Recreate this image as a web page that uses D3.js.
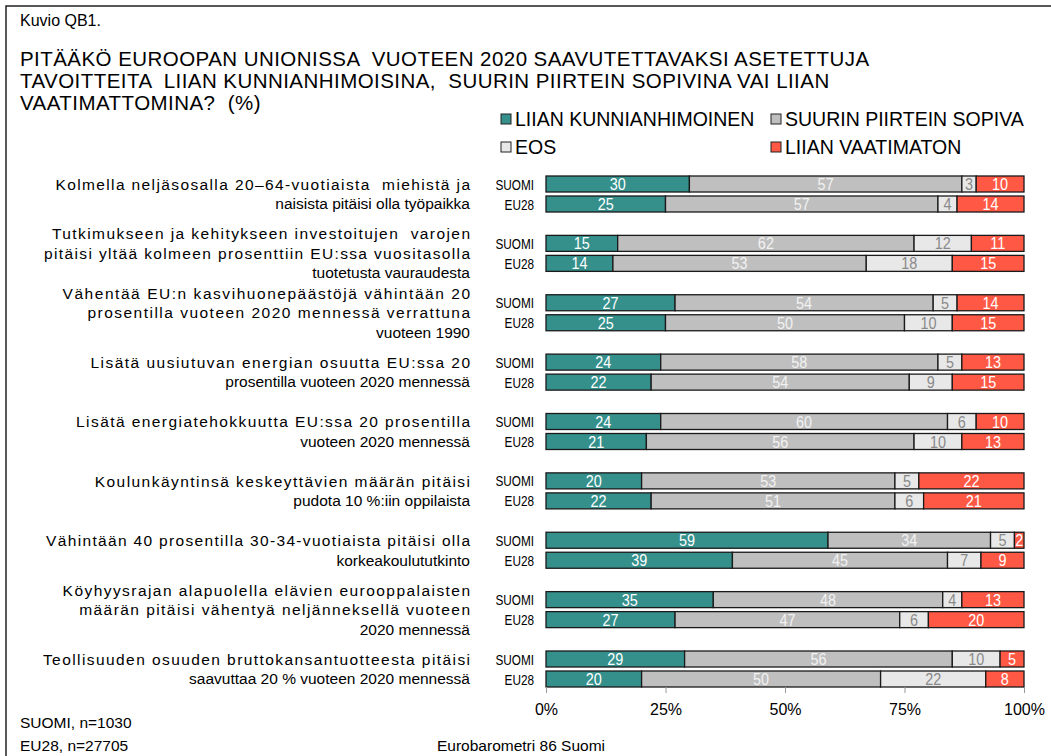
<!DOCTYPE html>
<html><head><meta charset="utf-8">
<script src="https://cdn.jsdelivr.net/npm/d3@7"></script>
<style>
html,body{margin:0;padding:0;background:#fff;}
svg text{font-family:"Liberation Sans",Arial,sans-serif;fill:#000;}
</style></head>
<body><svg id="c" width="1051" height="756"></svg>
<script>
const categories = [
  ["Kolmella neljäsosalla 20–64-vuotiaista  miehistä ja", "naisista pitäisi olla työpaikka"],
  ["Tutkimukseen ja kehitykseen investoitujen  varojen", "pitäisi yltää kolmeen prosenttiin EU:ssa vuositasolla", "tuotetusta vauraudesta"],
  ["Vähentää EU:n kasvihuonepäästöjä vähintään 20", "prosentilla vuoteen 2020 mennessä verrattuna", "vuoteen 1990"],
  ["Lisätä uusiutuvan energian osuutta EU:ssa 20", "prosentilla vuoteen 2020 mennessä"],
  ["Lisätä energiatehokkuutta EU:ssa 20 prosentilla", "vuoteen 2020 mennessä"],
  ["Koulunkäyntinsä keskeyttävien määrän pitäisi", "pudota 10 %:iin oppilaista"],
  ["Vähintään 40 prosentilla 30-34-vuotiaista pitäisi olla", "korkeakoulututkinto"],
  ["Köyhyysrajan alapuolella elävien eurooppalaisten", "määrän pitäisi vähentyä neljänneksellä vuoteen", "2020 mennessä"],
  ["Teollisuuden osuuden bruttokansantuotteesta pitäisi", "saavuttaa 20 % vuoteen 2020 mennessä"]
];
const rowNames = ["SUOMI", "EU28"];
const seriesNames = ["LIIAN KUNNIANHIMOINEN", "SUURIN PIIRTEIN SOPIVA", "EOS", "LIIAN VAATIMATON"];
const suomiKunnianhimoinen = [30, 15, 27, 24, 24, 20, 59, 35, 29];
const suomiSopiva          = [57, 62, 54, 58, 60, 53, 34, 48, 56];
const suomiEos             = [3, 12, 5, 5, 6, 5, 5, 4, 10];
const suomiVaatimaton      = [10, 11, 14, 13, 10, 22, 2, 13, 5];
const eu28Kunnianhimoinen  = [25, 14, 25, 22, 21, 22, 39, 27, 20];
const eu28Sopiva           = [57, 53, 50, 54, 56, 51, 45, 47, 50];
const eu28Eos              = [4, 18, 10, 9, 10, 6, 7, 6, 22];
const eu28Vaatimaton       = [14, 15, 15, 15, 13, 21, 9, 20, 8];
const tickValues = [0, 25, 50, 75, 100];
const tickLabels = ["0%", "25%", "50%", "75%", "100%"];

const colors = ["#35908C", "#BFBFBF", "#E8E8E8", "#FF5945"];
const labelColors = ["#ffffff", "#f2f2f2", "#8a8a8a", "#ffffff"];

const svg = d3.select("#c");

// frame
svg.append("path").attr("d", "M6,770V6H1060").attr("fill", "none").attr("stroke", "#222").attr("stroke-width", 1.5);

svg.append("text").attr("x", 20).attr("y", 26).attr("font-size", 16).text("Kuvio QB1.");
const titleLines = ["PITÄÄKÖ EUROOPAN UNIONISSA  VUOTEEN 2020 SAAVUTETTAVAKSI ASETETTUJA",
  "TAVOITTEITA  LIIAN KUNNIANHIMOISINA,  SUURIN PIIRTEIN SOPIVINA VAI LIIAN",
  "VAATIMATTOMINA?  (%)"];
svg.append("g").selectAll("text").data(titleLines).join("text")
  .attr("x", 20).attr("y", (d, i) => 66 + i * 22).attr("font-size", 20.5)
  .attr("letter-spacing", 0.45)
  .attr("xml:space", "preserve").style("white-space", "pre").text(d => d);

// legend
const legPos = [[501, 119], [771, 119], [501, 147], [771, 147]];
const leg = svg.append("g").selectAll("g").data(seriesNames).join("g")
  .attr("transform", (d, i) => `translate(${legPos[i][0]},${legPos[i][1]})`);
leg.append("rect").attr("x", 0).attr("y", -5).attr("width", 10).attr("height", 10)
  .attr("fill", (d, i) => colors[i]).attr("stroke", "#222").attr("stroke-width", 1);
leg.append("text").attr("x", 14).attr("y", 7).attr("font-size", 19.5).text(d => d);

// scales
const x = d3.scaleLinear().domain([0, 100]).range([546, 1024]);
const y = d3.scalePoint().domain(d3.range(categories.length)).range([194, 669]);
const barH = 16, gap = 4;

const rows = [];
const seriesSets = [
  [suomiKunnianhimoinen, suomiSopiva, suomiEos, suomiVaatimaton],
  [eu28Kunnianhimoinen, eu28Sopiva, eu28Eos, eu28Vaatimaton]
];
categories.forEach((c, gi) => {
  seriesSets.forEach((set, ri) => {
    let acc = 0;
    const segs = set.map((arr, si) => {
      const s = { x0: acc, x1: acc + arr[gi], v: arr[gi], si };
      acc += arr[gi];
      return s;
    });
    rows.push({ gi, ri, segs });
  });
});

const rowY = r => r.ri === 0 ? y(r.gi) - gap / 2 - barH : y(r.gi) + gap / 2;

const rowG = svg.append("g").selectAll("g").data(rows).join("g")
  .attr("transform", r => `translate(0,${rowY(r)})`);
rowG.selectAll("rect").data(r => r.segs).join("rect")
  .attr("x", s => x(s.x0)).attr("width", s => x(s.x1) - x(s.x0))
  .attr("y", 0).attr("height", barH)
  .attr("fill", s => colors[s.si]).attr("stroke", "#1a1a1a").attr("stroke-width", 1.3);
rowG.selectAll("text.v").data(r => r.segs).join("text").attr("class", "v")
  .attr("transform", s => `translate(${(x(s.x0) + x(s.x1)) / 2},${barH / 2 + 6}) scale(0.9,1)`)
  .attr("text-anchor", "middle").attr("font-size", 16)
  .style("fill", s => labelColors[s.si]).text(s => s.v);
rowG.append("text")
  .attr("transform", `translate(534,${barH / 2 + 5.5}) scale(0.76,1)`)
  .attr("text-anchor", "end").attr("font-size", 15.5).text(r => rowNames[r.ri]);

// category labels
const catG = svg.append("g").selectAll("g").data(categories).join("g")
  .attr("transform", (d, i) => `translate(470,${y(i)})`);
catG.selectAll("text").data(d => d.map((t, k) => ({ t, k, n: d.length }))).join("text")
  .attr("text-anchor", "end").attr("font-size", 15.5)
  .attr("xml:space", "preserve").style("white-space", "pre")
  .attr("y", d => (d.k - (d.n - 1) / 2) * 19.5 + 5.5).text(d => d.t)
  .each(function (d) {
    if (d.k < d.n - 1) {
      const w = this.getComputedTextLength();
      d3.select(this).attr("textLength", w * 1.2).attr("lengthAdjust", "spacing");
    }
  });

// axis
const axis = d3.axisBottom(x).tickValues(tickValues).tickFormat((d, i) => tickLabels[i]).tickSize(6).tickPadding(11);
const ag = svg.append("g").attr("transform", `translate(0,${y(categories.length - 1) + gap / 2 + barH})`).call(axis);
ag.select(".domain").remove();
ag.selectAll(".tick line").attr("stroke", "#999");
ag.selectAll(".tick text").attr("font-size", 16).attr("font-family", "Liberation Sans, Arial, sans-serif").style("fill", "#000");

// footer
svg.append("text").attr("x", 20).attr("y", 728).attr("font-size", 15.5).text("SUOMI, n=1030");
svg.append("text").attr("x", 20).attr("y", 751).attr("font-size", 15.5).text("EU28, n=27705");
svg.append("text").attr("x", 437).attr("y", 751).attr("font-size", 15.5).text("Eurobarometri 86 Suomi");
</script></body></html>
